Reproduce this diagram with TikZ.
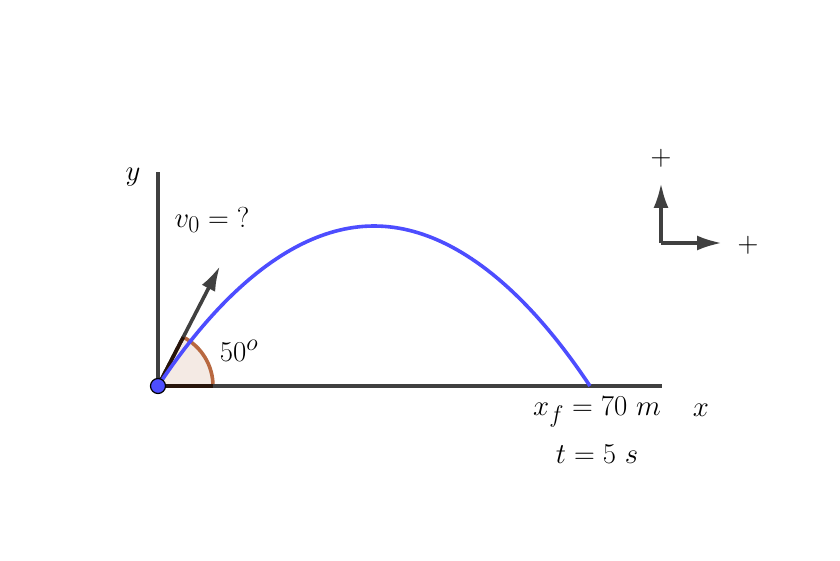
\documentclass[tikz,border=0pt]{standalone}
\usetikzlibrary{arrows.meta,calc}
\definecolor{axisgray}{RGB}{64,64,64}
\definecolor{trajblue}{RGB}{77,77,255}
\definecolor{anglebrown}{RGB}{184,104,64}
\definecolor{anglefill}{RGB}{244,234,228}
\definecolor{edgedark}{RGB}{40,20,10}
\begin{document}
\begin{tikzpicture}[x=1pt,y=-1pt,
  axis/.style={draw=axisgray,line width=3.6pt},
  vecarrow/.style={draw=axisgray,line width=3.6pt,-{Latex[length=25pt,width=15pt]}},
  lbl/.style={inner sep=0pt,font=\fontsize{24.88}{30}\selectfont,scale=1.16,transform shape},
  traj/.style={draw=trajblue,line width=3.6pt}]
\useasboundingbox (0,0) rectangle (840,561);
\fill[white] (0,0) rectangle (840,561);
% coordinates
\coordinate (O) at (158,386);
\coordinate (Ytop) at (158,172);
\coordinate (Xend) at (662,386);
\coordinate (Peak) at (374,226);
\coordinate (Land) at (590,386);
\coordinate (V) at (220,266);
\coordinate (S) at (661,243);
\coordinate (Sup) at (661,183);
\coordinate (Sright) at (722,243);
% angle sector
\fill[anglefill] (O) -- ++(55,0) arc[start angle=0,end angle=-62.5,radius=55] -- cycle;
\draw[anglebrown,line width=3.6pt] (O) ++(55,0) arc[start angle=0,end angle=-62.5,radius=55];
% axes
\draw[axis] (O) -- (Ytop);
\draw[axis] (O) -- (Xend);
\draw[edgedark,line width=3.6pt] (O) -- ++(55,0);
% velocity
\draw[vecarrow] (O) -- (V);
\draw[edgedark,line width=3.6pt] (O) -- ($(O)!55pt!(V)$);
% trajectory
\draw[traj] (O) parabola bend (Peak) (Land);
% point
\node[circle,fill=trajblue,draw=black,line width=1.2pt,minimum size=15pt,inner sep=0pt] (P) at (O) {};
% sign arrows
\draw[vecarrow] (S) -- (Sup);
\draw[vecarrow] (S) -- (Sright);
% labels
\node[lbl] (ylbl) at (133,177) {$y$};
\node[lbl] (xlbl) at (701,410) {$x$};
\node[lbl] (v0) at (212,220) {$v_0 = \mathord{?}$};
\node[lbl] (ang) at (239,351) {$50^o$};
\node[lbl] (xf) at (597,412) {$x_f=70\ m$};
\node[lbl] (tt) at (597,454) {$t=5\ s$};
\node[lbl] (pup) at (661,158) {$+$};
\node[lbl] (pright) at (748,245) {$+$};
\end{tikzpicture}
\end{document}
